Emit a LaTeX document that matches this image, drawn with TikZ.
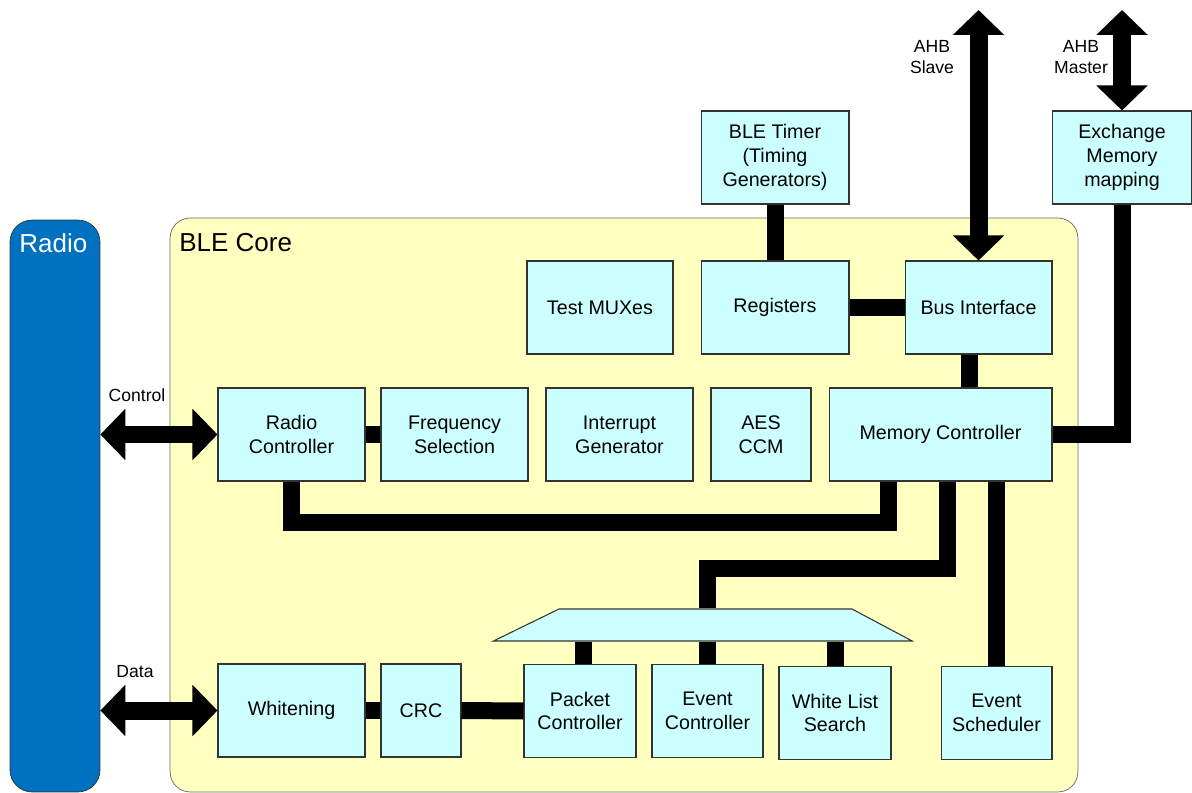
\documentclass[tikz,border=0pt]{standalone}
\usepackage{fontspec}
\setmainfont{Liberation Sans}
\usetikzlibrary{arrows.meta,positioning,shapes.geometric,calc}
\definecolor{radioblue}{HTML}{0070C0}
\definecolor{corebg}{HTML}{FFFFC0}
\definecolor{blockbg}{HTML}{CCFFFF}
\definecolor{blockline}{HTML}{333333}
\definecolor{coreline}{HTML}{6A6A5A}
\tikzset{
  block/.style={draw=blockline,fill=blockbg,line width=0.6pt,inner sep=0pt,
                minimum height=1.86cm,align=center,
                font=\fontsize{11.2pt}{13.6pt}\selectfont},
  bus/.style={line width=0.34cm,draw=black},
  dbus/.style={line width=0.36cm,draw=black,
               {Triangle[length=0.5cm,width=1cm]}-{Triangle[length=0.5cm,width=1cm]}},
  buslabel/.style={align=center,font=\fontsize{10pt}{11.9pt}\selectfont},
  biglabel/.style={anchor=west,inner sep=0pt,font=\fontsize{14.8pt}{17pt}\selectfont}
}
\begin{document}
\begin{tikzpicture}[x=0.02cm,y=-0.02cm]
    \useasboundingbox (0,0) rectangle (1192,793);
    % outer frames
    \node[draw=blockline,fill=radioblue,rounded corners=0.44cm,minimum width=1.8cm,
      minimum height=11.44cm] (radio) at (55,506) {};
    \node[draw=coreline,fill=corebg,rounded corners=0.4cm,minimum width=18.16cm,
      minimum height=11.48cm] (core) at (624,505) {};
    \node[biglabel,text=white] (radiolbl) at (19,243) {Radio};
    \node[biglabel] (corelbl) at (179,243) {BLE Core};
    % blocks
    \node[block,minimum width=2.96cm] (tmr) at (775,157.5) {BLE Timer\\(Timing\\Generators)};
    \node[block,minimum width=2.8cm] (ex) at (1122,157.5) {Exchange\\Memory\\mapping};
    \node[block,minimum width=2.92cm] (mux) at (600,307.5) {Test MUXes};
    \node[block,minimum width=2.96cm] (reg) at (775,307.5) {Registers};
    \node[block,minimum width=2.94cm] (bi) at (978.5,307.5) {Bus Interface};
    \node[block,minimum width=2.94cm] (rc) at (291.5,434.5) {Radio\\Controller};
    \node[block,minimum width=2.94cm] (fs) at (454.5,434.5) {Frequency\\Selection};
    \node[block,minimum width=2.94cm] (ig) at (619.5,434.5) {Interrupt\\Generator};
    \node[block,minimum width=2cm] (aes) at (761,434.5) {AES\\CCM};
    \node[block,minimum width=4.46cm] (mc) at (940.5,434.5) {Memory Controller};
    \node[block,minimum width=2.94cm] (wh) at (291.5,710.5) {Whitening};
    \node[block,minimum width=1.6cm] (crc) at (421,710.5) {CRC};
    \node[block,minimum width=2.24cm] (pc) at (580,711) {Packet\\Controller};
    \node[block,minimum width=2.22cm] (ec) at (707.5,711) {Event\\Controller};
    \node[block,minimum width=2.24cm] (wl) at (835,713) {White List\\Search};
    \node[block,minimum width=2.22cm] (es) at (996.5,713) {Event\\Scheduler};
    \node[draw=blockline,fill=blockbg,line width=0.6pt,trapezium,trapezium left angle=26,
      trapezium right angle=28,inner sep=0pt,text width=5.86cm,text height=0.64cm,
      text depth=0pt] (sel) at (705.5,625) {};
    % external ports
    \coordinate (ahbs) at (978.5,10);
    \coordinate (ahbm) at (1122,10);
    \node[buslabel] (ahbslbl) at (932,57) {AHB\\Slave};
    \node[buslabel] (ahbmlbl) at (1081,57) {AHB\\Master};
    \node[buslabel] (ctllbl) at (137,395) {Control};
    \node[buslabel] (datalbl) at (135,672) {Data};
    \draw[dbus] (ahbs) -- (bi.north);
    \draw[dbus] (ahbm) -- (ex.north);
    \draw[dbus] (rc.west -| radio.east) -- (rc.west);
    \draw[dbus] (wh.west -| radio.east) -- (wh.west);
    % internal buses
    \draw[bus] (tmr.south) -- (reg.north);
    \draw[bus] (reg.east) -- (bi.west);
    \draw[bus] ([xshift=-0.19cm]bi.south) -- ([xshift=-0.19cm]bi.south |- mc.north);
    \draw[bus] (ex.south) |- (mc.east);
    \draw[bus] (rc.east) -- (fs.west);
    \draw[bus] (rc.south) -- ++(0,41) -| ([xshift=-1.05cm]mc.south);
    \draw[bus] ([xshift=0.13cm]mc.south) -- ++(0,87) -| (ec.north |- sel.north);
    \draw[bus] (es.north) -- (es.north |- mc.south);
    \draw[bus] (wh.east) -- (crc.west);
    \draw[bus] (crc.east) -- (pc.west);
    \draw[bus] ([xshift=0.06cm]pc.north) -- ([xshift=0.06cm]pc.north |- sel.south);
    \draw[bus] (ec.north) -- (ec.north |- sel.south);
    \draw[bus] (wl.north) -- (wl.north |- sel.south);
  \end{tikzpicture}
\end{document}
